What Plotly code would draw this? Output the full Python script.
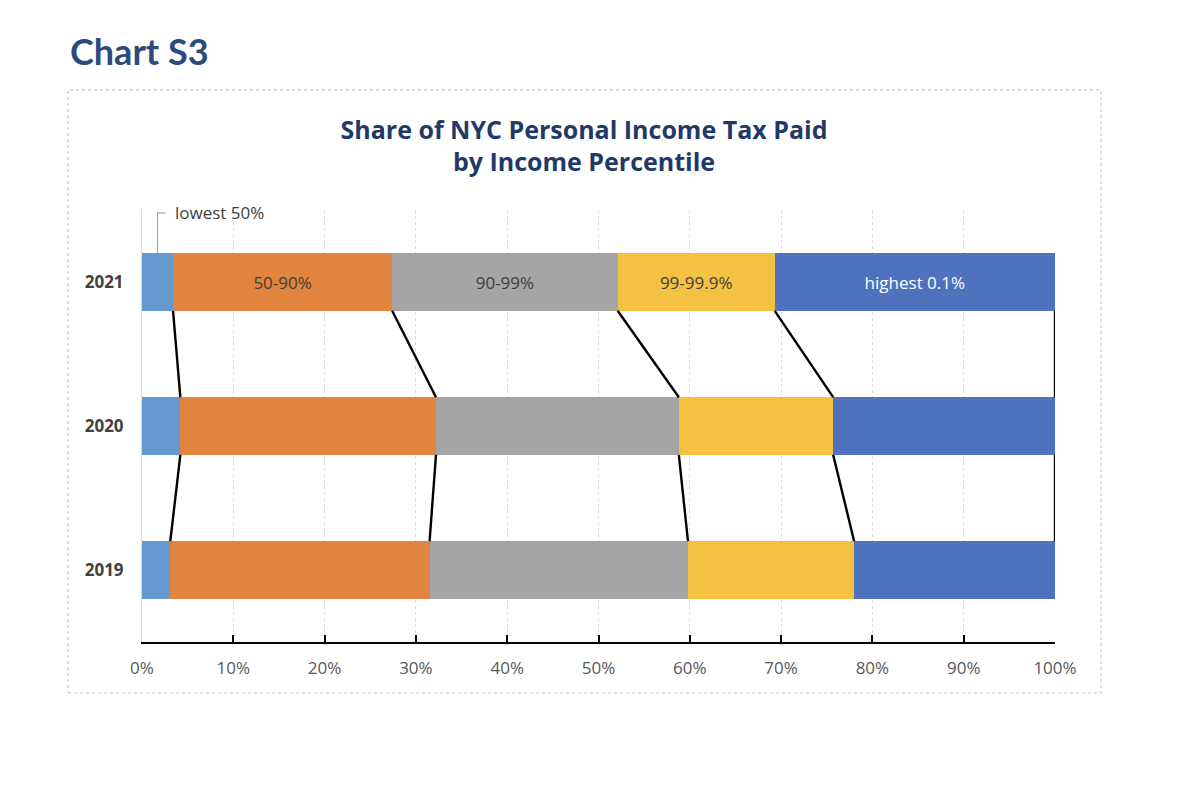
import plotly.graph_objects as go

# Data (share of tax paid, %)
years = ["2019", "2020", "2021"]
groups = ["lowest 50%", "50-90%", "90-99%", "99-99.9%", "highest 0.1%"]
lowest_50 = [3.1, 4.2, 3.4]
p50_90 = [28.4, 28.0, 24.0]
p90_99 = [28.3, 26.6, 24.7]
p99_999 = [18.2, 16.9, 17.2]
top_01 = [22.0, 24.3, 30.7]
x_ticks = [0, 10, 20, 30, 40, 50, 60, 70, 80, 90, 100]

series = [lowest_50, p50_90, p90_99, p99_999, top_01]
colors = ["#6699D0", "#E0843F", "#A5A5A5", "#F4C242", "#4F72BE"]
label_colors = ["#404040", "#404040", "#404040", "#404040", "#FFFFFF"]

ypos = list(range(len(years)))
bar_w = 0.4

fig = go.Figure()

# Stacked bars, labels only on the latest year
for i, (name, vals) in enumerate(zip(groups, series)):
    txt = [""] * len(years)
    if i > 0:
        txt[-1] = name
    fig.add_trace(go.Bar(
        y=ypos, x=vals, orientation="h", name=name,
        marker=dict(color=colors[i], line=dict(width=0)),
        width=bar_w, text=txt, textposition="inside",
        insidetextanchor="middle", constraintext="none",
        textfont=dict(family="Open Sans", size=17, color=label_colors[i]),
        hoverinfo="x+name", showlegend=False,
    ))

# Series lines joining segment boundaries between years
cum = []
for j in range(len(years)):
    run, row = 0, []
    for vals in series:
        run += vals[j]
        row.append(run)
    cum.append(row)

lx, ly = [], []
for k in range(len(series)):
    for j in range(len(years) - 1, 0, -1):
        lx += [cum[j][k], cum[j - 1][k], None]
        ly += [ypos[j] - bar_w / 2, ypos[j - 1] + bar_w / 2, None]
fig.add_trace(go.Scatter(x=lx, y=ly, mode="lines",
                         line=dict(color="black", width=2.4),
                         cliponaxis=False,
                         hoverinfo="skip", showlegend=False))

# callout for the lowest 50% segment
mid = lowest_50[-1] / 2
fig.add_shape(type="path", xref="x", yref="y",
              path=f"M {mid} {ypos[-1] + bar_w / 2} L {mid} 2.48 L 2.6 2.48",
              line=dict(color="#A6A6A6", width=1.2))
fig.add_annotation(x=3.4, y=2.48, xref="x", yref="y", text="lowest 50%",
                   showarrow=False, xanchor="left", yanchor="middle",
                   font=dict(family="Open Sans", size=17, color="#404040"))

# dotted frame round the chart
fig.add_shape(type="rect", xref="paper", yref="paper",
              x0=-0.081, x1=1.0504, y0=-0.118, y1=1.278,
              line=dict(color="#C8C8C8", width=1.2, dash="dot"))

fig.add_annotation(x=-0.081, y=1.368, xref="paper", yref="paper",
                   text="<b>Chart S3</b>", showarrow=False,
                   xanchor="left", yanchor="middle",
                   font=dict(family="Lato", size=36, color="#2C4B7C"))

fig.update_layout(
    width=1200, height=791,
    margin=dict(l=134, r=153, t=202, b=157),
    barmode="stack",
    plot_bgcolor="white", paper_bgcolor="white",
    title=dict(
        text="<b>Share of NYC Personal Income Tax Paid<br>by Income Percentile</b>",
        x=0.48, xanchor="center", y=0.835, yanchor="middle",
        font=dict(family="Open Sans", size=25, color="#1F3A68"),
    ),
    xaxis=dict(range=[0, 100], tickvals=x_ticks,
               ticktext=[f"{v}%" for v in x_ticks],
               showgrid=True, gridcolor="#D9D9D9", griddash="dot", gridwidth=1,
               showline=True, linecolor="black", linewidth=2,
               ticks="inside", ticklen=7, tickcolor="black", tickwidth=1.5,
               ticklabelstandoff=10,
               tickfont=dict(family="Open Sans", size=17, color="#595959"),
               zeroline=False, fixedrange=True),
    yaxis=dict(range=[-0.5, 2.5], tickvals=ypos, ticktext=[f"<b>{y}</b>" for y in years],
               showgrid=False, showline=True, linecolor="#D9D9D9", linewidth=1,
               ticks="", ticklabelstandoff=14,
               tickfont=dict(family="Open Sans", size=17, color="#404040"),
               zeroline=False, fixedrange=True),
)

fig.write_html("out.html")
